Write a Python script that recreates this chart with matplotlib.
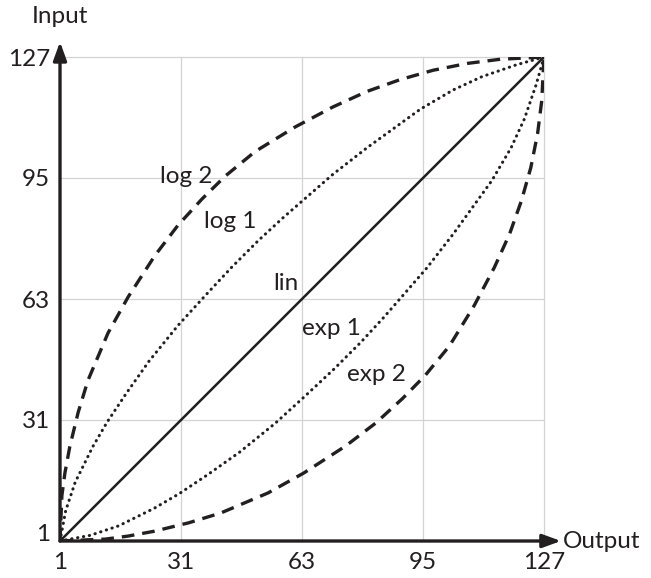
import matplotlib
matplotlib.use("Agg")
import matplotlib.pyplot as plt

plt.rcParams['font.family'] = ['Lato', 'DejaVu Sans']

# curves (0..128 scale, ticks every 32)
lin_x = [0, 128]
lin_y = [0, 128]

log1_x = [0, 1.5, 4, 8.7, 12.5, 17.5, 23.5, 31.2, 38.5, 45.5, 52.5, 59, 64.5, 72.2, 81.2, 89.9, 95.3, 104, 111.6, 120.6, 128]
log1_y = [0, 8, 15.5, 25, 31.5, 39, 47.5, 57, 65, 72.5, 79.5, 85.5, 90.3, 97, 104, 110.3, 114.2, 119.3, 122.8, 125.9, 128]

exp1_x = [0, 8, 15.5, 25, 31.5, 39, 47.5, 57, 65, 72.5, 79.5, 85.5, 90.3, 97, 104, 110.3, 114.2, 119.3, 122.8, 125.9, 128]
exp1_y = [0, 1.5, 4, 8.7, 12.5, 17.5, 23.5, 31.2, 38.5, 45.5, 52.5, 59, 64.5, 72.2, 81.2, 89.9, 95.3, 104, 111.6, 120.6, 128]

log2_x = [0, 0.5, 1.3, 2.6, 4.8, 7.4, 12.7, 18.0, 25.1, 31.2, 37.6, 43.7, 51.6, 62.2, 72.2, 81.2, 89.9, 98.7, 107.7, 116.4, 128]
log2_y = [0, 12, 18, 25, 34, 42.5, 55, 64.5, 75.5, 83.5, 90.5, 96.5, 103, 109.5, 114.8, 118.9, 122, 124.5, 126.3, 127.4, 128]

exp2_x = [0, 12, 18, 25, 34, 42.5, 55, 64.5, 75.5, 83.5, 90.5, 96.5, 103, 109.5, 114.8, 118.9, 122, 124.5, 126.3, 127.4, 128]
exp2_y = [0, 0.5, 1.3, 2.6, 4.8, 7.4, 12.7, 18.0, 25.1, 31.2, 37.6, 43.7, 51.6, 62.2, 72.2, 81.2, 89.9, 98.7, 107.7, 116.4, 128]

tick_pos = [0, 32, 64, 96, 128]
tick_labels = ["1", "31", "63", "95", "127"]

ink = "#231f20"
fs = 17.5

fig = plt.figure(figsize=(6.51, 5.78), dpi=100)
ax = fig.add_axes([60 / 651, 37 / 578, 484 / 651, 484 / 578])
ax.set_xlim(0, 128)
ax.set_ylim(0, 128)

dots = dict(color=ink, lw=2.2, ls=(0, (0.1, 1.85)), dash_capstyle="round", zorder=3)
ax.plot(lin_x, lin_y, color=ink, lw=1.8, zorder=3)
ax.plot(log1_x, log1_y, **dots)
ax.plot(exp1_x, exp1_y, **dots)
ax.plot(log2_x, log2_y, color=ink, lw=2.4, ls=(0, (3.8, 2.4)), zorder=3)
ax.plot(exp2_x, exp2_y, color=ink, lw=2.4, ls=(0, (3.8, 2.4)), zorder=3)

# curve labels
ax.text(26.5, 94.7, "log 2", fontsize=fs, color=ink, va="baseline")
ax.text(38.1, 82.8, "log 1", fontsize=fs, color=ink, va="baseline")
ax.text(56.3, 66.4, "lin", fontsize=fs, color=ink, va="baseline")
ax.text(64.0, 54.5, "exp 1", fontsize=fs, color=ink, va="baseline")
ax.text(75.9, 42.3, "exp 2", fontsize=fs, color=ink, va="baseline")

ax.set_xticks(tick_pos)
ax.set_xticklabels(tick_labels)
ax.set_yticks(tick_pos)
ax.set_yticklabels(tick_labels)
ax.tick_params(length=0, labelsize=fs, colors=ink)
ax.tick_params(axis="x", pad=8)
ax.tick_params(axis="y", pad=7)
ax.get_yticklabels()[0].set_va("baseline")

ax.grid(True, color="#d3d3d3", lw=0.9)
ax.set_axisbelow(True)
for gl in ax.get_xgridlines() + ax.get_ygridlines():
    gl.set_clip_on(False)
for s in ax.spines.values():
    s.set_visible(False)

# axes with arrows
arrow = dict(arrowstyle="-|>,head_length=0.55,head_width=0.2", color=ink,
             lw=2.4, mutation_scale=20, shrinkA=0, shrinkB=0)
ax.annotate("", xy=(132.5, 0), xytext=(0, 0), arrowprops=arrow, annotation_clip=False, zorder=5)
ax.annotate("", xy=(0, 132), xytext=(0, 0), arrowprops=arrow, annotation_clip=False, zorder=5)

ax.text(133, 0, "Output", fontsize=fs, color=ink, va="center", ha="left", clip_on=False)
ax.text(0, 138.6, "Input", fontsize=fs, color=ink, va="center", ha="center", clip_on=False)

fig.savefig("out.png", dpi=100)
